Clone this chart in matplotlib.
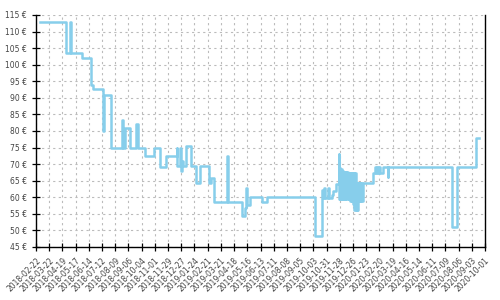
import pandas as pd
import matplotlib.pyplot as plt
import matplotlib.dates as mdates

# price history (date of change, price in EUR)
dates = [
    "2018-03-02", "2018-04-27", "2018-05-05", "2018-05-08", "2018-05-30",
    "2018-06-19", "2018-06-23", "2018-07-14", "2018-07-17", "2018-08-01",
    "2018-08-23", "2018-08-25", "2018-08-29", "2018-09-09", "2018-09-23",
    "2018-09-27", "2018-10-12", "2018-10-30", "2018-11-12", "2018-11-25",
    "2018-12-17", "2018-12-19", "2018-12-25", "2018-12-27", "2018-12-29",
    "2018-12-31", "2019-01-07", "2019-01-16", "2019-01-28", "2019-02-04",
    "2019-02-23", "2019-03-01", "2019-03-06", "2019-04-03", "2019-04-05",
    "2019-05-05", "2019-05-11", "2019-05-13", "2019-05-15", "2019-05-22",
    "2019-06-17", "2019-06-27", "2019-10-06", "2019-10-22", "2019-10-24",
    "2019-10-26", "2019-10-28", "2019-11-04", "2019-11-06", "2019-11-11",
    "2019-11-14", "2019-11-20", "2019-11-26", "2019-11-27", "2019-11-28",
    "2019-11-29", "2019-12-01", "2019-12-02", "2019-12-04", "2019-12-05",
    "2019-12-07", "2019-12-08", "2019-12-10", "2019-12-11", "2019-12-12",
    "2019-12-15", "2019-12-16", "2019-12-17", "2019-12-19", "2019-12-20",
    "2019-12-22", "2019-12-23", "2019-12-25", "2019-12-26", "2019-12-28",
    "2019-12-29", "2019-12-31", "2020-01-01", "2020-01-03", "2020-01-04",
    "2020-01-06", "2020-01-07", "2020-01-09", "2020-01-10", "2020-01-13",
    "2020-01-14", "2020-01-17", "2020-02-07", "2020-02-11", "2020-02-13",
    "2020-02-15", "2020-02-17", "2020-02-19", "2020-02-21", "2020-02-28",
    "2020-03-09", "2020-03-10", "2020-07-24", "2020-08-03", "2020-09-12",
    "2020-09-19",
]
prices = [
    113, 103.6, 113, 103.6, 102.1,
    94, 92.6, 80, 91, 75,
    83.3, 75, 81, 75, 82,
    75, 72.5, 75, 69, 72.5,
    75, 69.5, 75, 68, 71,
    69.5, 75.5, 69.5, 64.2, 69.5,
    64.2, 65.7, 58.7, 72.5, 58.7,
    54.3, 56.7, 62.7, 57.7, 60,
    58.7, 60, 48.3, 62.2, 59.7,
    62.7, 59.7, 62.9, 59.7, 60.7,
    61.9, 63.9, 73.1, 59.4, 68.7,
    59.4, 68.5, 59.4, 68, 59.4,
    67.6, 59.4, 67.5, 59.4, 67.5,
    59.4, 67.2, 59.4, 67.2, 59,
    67.2, 59, 67.2, 58, 67.2,
    56.2, 67.2, 56.2, 64.2, 56.2,
    64.2, 58.9, 64.2, 58.9, 64.2,
    58.9, 64.2, 67.2, 69, 67.2,
    69.2, 67.2, 69.2, 67.2, 69.2,
    66, 69.2, 51.1, 69.2, 78,
    78,
]

tick_start = "2018-02-22"
tick_end = "2020-10-01"
y_ticks = list(range(45, 120, 5))

x = pd.to_datetime(dates)
ticks = pd.date_range(tick_start, tick_end, freq="28D")

fig = plt.figure(figsize=(5, 3), dpi=100)
ax = fig.add_axes([0.072, 0.177, 0.898, 0.773])

ax.step(x, prices, where="post", color="skyblue", linewidth=1.8)

ax.set_xlim(pd.Timestamp(tick_start), pd.Timestamp(tick_end))
ax.set_ylim(45, 115)
ax.set_xticks(ticks)
ax.xaxis.set_major_formatter(mdates.DateFormatter("%Y-%m-%d"))
ax.set_yticks(y_ticks)
ax.set_yticklabels([f"{v} €" for v in y_ticks])

for lab in ax.get_xticklabels():
    lab.set_rotation(45)
    lab.set_ha("right")
    lab.set_rotation_mode("anchor")

ax.tick_params(axis="both", labelsize=5.5, labelcolor="#444444",
               direction="inout", length=6, width=0.9)
ax.grid(True, color="#bbbbbb", linestyle=(0, (2, 3)), linewidth=0.8)
ax.set_axisbelow(True)
ax.spines["top"].set_visible(False)
for s in ["left", "right", "bottom"]:
    ax.spines[s].set_linewidth(1.0)

fig.savefig("out.png", dpi=100)
